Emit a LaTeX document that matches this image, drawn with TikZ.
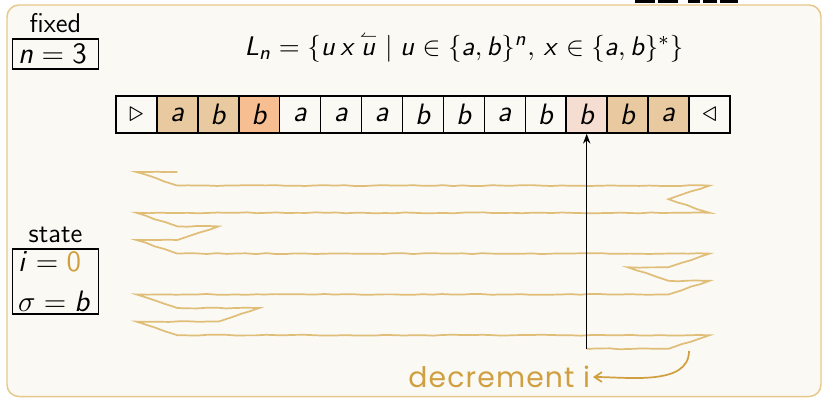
\documentclass[tikz,border=0pt]{standalone}
\usepackage{amsmath}
\usepackage[no-math]{fontspec}
\usepackage{xcolor}
\usepackage{tikz}
\usetikzlibrary{arrows.meta,positioning,decorations.pathmorphing}
\renewcommand{\familydefault}{\sfdefault}
\newfontfamily\handfont[LetterSpace=4]{Poppins}
% sans math letters, as on the slides
\DeclareSymbolFont{sfletters}{OT1}{cmss}{m}{sl}
\DeclareSymbolFont{sfdigits}{OT1}{cmss}{m}{n}
\DeclareMathSymbol{a}{\mathalpha}{sfletters}{`a}
\DeclareMathSymbol{b}{\mathalpha}{sfletters}{`b}
\DeclareMathSymbol{i}{\mathalpha}{sfletters}{`i}
\DeclareMathSymbol{n}{\mathalpha}{sfletters}{`n}
\DeclareMathSymbol{u}{\mathalpha}{sfletters}{`u}
\DeclareMathSymbol{x}{\mathalpha}{sfletters}{`x}
\DeclareMathSymbol{L}{\mathalpha}{sfletters}{`L}
\DeclareMathSymbol{0}{\mathalpha}{sfdigits}{`0}
\DeclareMathSymbol{3}{\mathalpha}{sfdigits}{`3}
\definecolor{slidebg}{HTML}{FAF9F4}
\definecolor{framegold}{HTML}{E6C88A}
\definecolor{pathgold}{HTML}{E0BE78}
\definecolor{inkgold}{HTML}{D0A040}
\definecolor{celltan}{HTML}{E8C9A0}
\definecolor{cellorange}{HTML}{F6BE91}
\definecolor{cellpink}{HTML}{F6DDD2}
\tikzset{
  cell/.style={draw, line width=0.6pt, minimum width=0.585cm, minimum height=0.53cm, inner sep=0pt, font=\large},
  regbox/.style={draw, line width=0.5pt, text width=1.07cm, inner xsep=0.075cm, inner ysep=1pt, align=left, font=\large},
  reglabel/.style={font=\fontsize{11}{13}\selectfont, inner sep=2pt},
  headpath/.style={pathgold, line width=0.7pt, decorate, decoration={random steps, segment length=4pt, amplitude=0.2pt}},
  headarrow/.style={-{Stealth[length=4pt, width=3pt]}, line width=0.5pt, black},
  decarrow/.style={-{Straight Barb[length=3pt, width=4pt]}, line width=0.7pt, inkgold},
  handtext/.style={font=\handfont\fontsize{11.5}{13}\selectfont, text=inkgold, inner sep=1pt},
}
\newcommand{\rev}[1]{\overset{\lower3pt\hbox{$\scriptscriptstyle\leftharpoonup$}}{#1}}

\begin{document}
\begin{tikzpicture}[x=0.0143cm, y=-0.0143cm]
\useasboundingbox (0,0) rectangle (822,397);
\draw[framegold, fill=slidebg, line width=0.6pt, rounded corners=0.17cm] (7,5) rectangle (821,396.5);
% bits of the slide title
\fill[black] (635,0) rectangle (655,3);
\fill[black] (658,0) rectangle (678,3);
\fill[black] (688,0) rectangle (700,3);
\fill[black] (703,0) rectangle (717,3);
\fill[black] (720,0) rectangle (738,3);

\node[font=\fontsize{11.2}{13}\selectfont] (lang) at (464,46) {$L_n = \{u\,x\,\rev{u} \mid u \in \{a,b\}^n,\, x \in \{a,b\}^*\}$};

% registers
\node[regbox, minimum height=0.43cm] (fixbox) at (55.5,54) {$n = 3$};
\node[reglabel, above=0pt of fixbox] (fixlab) {fixed};
\node[regbox, minimum height=0.93cm] (statebox) at (55.5,281.5) {\mbox{$i = {\color{inkgold}0}$}\\[2pt] \mbox{$\sigma = b$}};
\node[reglabel, above=0pt of statebox] (statelab) {state};

% tape
\foreach \lab/\col [count=\k from 0] in {\triangleright/slidebg, a/celltan, b/celltan, b/cellorange, a/slidebg, a/slidebg, a/slidebg, b/slidebg, b/slidebg, a/slidebg, b/slidebg, b/cellpink, b/celltan, a/celltan, \triangleleft/slidebg}
  \node[cell, fill=\col] (c\k) at ({116+40.93*(\k+0.5)},114.5) {$\lab$};

% run of the head
\foreach \p/\r [count=\n from 0] in {1/0,0/0,1/1,14/1,13/2,14/3,0/3,1/4,2/4,1/5,0/5,1/6,14/6,13/7,12/7,13/8,14/8,13/9,0/9,1/10,3/10,2/11,0/11,1/12,14/12,13/13,11/13}
  \coordinate (h\n) at (c\p |- 0,{172+13.6*\r});
\pgfmathsetseed{7}
\draw[headpath] (h0) \foreach \i in {1,...,26}{ -- (h\i)};
\draw[headarrow] (h26) -- (c11.south);

\coordinate (decstart) at (689,351);
\node[handtext, anchor=east] (dec) at (593,377) {decrement i};
\draw[decarrow] (decstart) to[out=-90, in=0, looseness=0.9] (dec.east);
\end{tikzpicture}
\end{document}
